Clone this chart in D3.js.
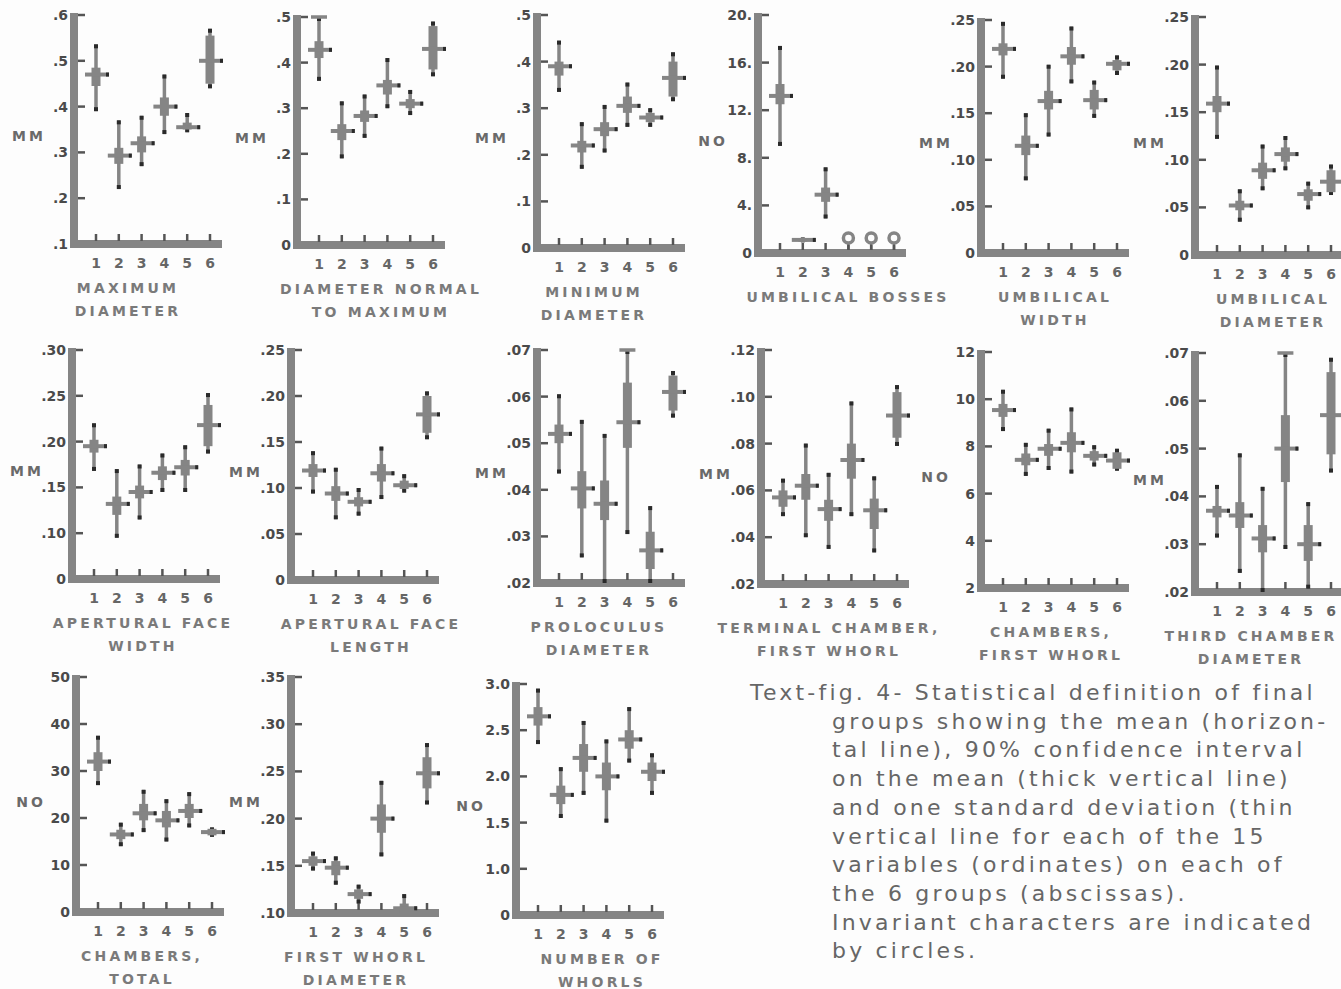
<!DOCTYPE html>
<html>
<head>
<meta charset="utf-8">
<script src="https://cdn.jsdelivr.net/npm/d3@7"></script>
<style>
  body { margin: 0; background: #fdfdfd; }
  svg { display: block; }
  .tick-lbl { font-family: "DejaVu Sans", sans-serif; font-weight: 700; font-size: 14px; fill: #4a4a4a; }
  .grp-lbl { font-family: "DejaVu Sans", sans-serif; font-weight: 700; font-size: 14px; fill: #666; letter-spacing: 1px; }
  .title { font-family: "DejaVu Sans", sans-serif; font-weight: 700; font-size: 14px; fill: #7a7a7a; letter-spacing: 3.2px; }
  .unit { font-family: "DejaVu Sans", sans-serif; font-weight: 700; font-size: 14px; fill: #6a6a6a; letter-spacing: 3px; }
  .caption { font-family: "DejaVu Sans", sans-serif; font-size: 22px; fill: #666; letter-spacing: 3.2px; }
</style>
</head>
<body>
<svg id="fig" width="1341" height="989"></svg>
<script>
const W = 1341, H = 989;
const groups = [1, 2, 3, 4, 5, 6];

// panel order: row 1 left->right, row 2, row 3
const titles1 = ["MAXIMUM", "DIAMETER NORMAL", "MINIMUM", "UMBILICAL BOSSES", "UMBILICAL", "UMBILICAL",
  "APERTURAL FACE", "APERTURAL FACE", "PROLOCULUS", "TERMINAL CHAMBER,", "CHAMBERS,", "THIRD CHAMBER",
  "CHAMBERS,", "FIRST WHORL", "NUMBER OF"];
const titles2 = ["DIAMETER", "TO MAXIMUM", "DIAMETER", "", "WIDTH", "DIAMETER",
  "WIDTH", "LENGTH", "DIAMETER", "FIRST WHORL", "FIRST WHORL", "DIAMETER",
  "TOTAL", "DIAMETER", "WHORLS"];
const units = ["MM", "MM", "MM", "NO", "MM", "MM", "MM", "MM", "MM", "MM", "NO", "MM", "NO", "MM", "NO"];

const yTicks = [
  [.1, .2, .3, .4, .5, .6], [0, .1, .2, .3, .4, .5], [0, .1, .2, .3, .4, .5],
  [0, 4, 8, 12, 16, 20], [0, .05, .10, .15, .20, .25], [0, .05, .10, .15, .20, .25],
  [.05, .10, .15, .20, .25, .30], [0, .05, .10, .15, .20, .25], [.02, .03, .04, .05, .06, .07],
  [.02, .04, .06, .08, .10, .12], [2, 4, 6, 8, 10, 12], [.02, .03, .04, .05, .06, .07],
  [0, 10, 20, 30, 40, 50], [.10, .15, .20, .25, .30, .35], [.5, 1, 1.5, 2, 2.5, 3]
];
const yTickLabels = [
  [".1", ".2", ".3", ".4", ".5", ".6"], ["0", ".1", ".2", ".3", ".4", ".5"], ["0", ".1", ".2", ".3", ".4", ".5"],
  ["0", "4.", "8.", "12.", "16.", "20."], ["0", ".05", ".10", ".15", ".20", ".25"], ["0", ".05", ".10", ".15", ".20", ".25"],
  ["0", ".10", ".15", ".20", ".25", ".30"], ["0", ".05", ".10", ".15", ".20", ".25"], [".02", ".03", ".04", ".05", ".06", ".07"],
  [".02", ".04", ".06", ".08", ".10", ".12"], ["2", "4", "6", "8", "10", "12"], [".02", ".03", ".04", ".05", ".06", ".07"],
  ["0", "10", "20", "30", "40", "50"], [".10", ".15", ".20", ".25", ".30", ".35"], ["0", "1.0", "1.5", "2.0", "2.5", "3.0"]
];

const means = [
  [.47, .293, .32, .40, .355, .50],
  [.428, .25, .283, .35, .31, .43],
  [.39, .22, .255, .305, .28, .365],
  [13.2, 1.1, 4.9, 1, 1, 1],
  [.219, .115, .163, .211, .164, .203],
  [.159, .052, .089, .106, .064, .077],
  [.195, .132, .145, .166, .172, .218],
  [.119, .094, .085, .116, .103, .18],
  [.052, .0403, .037, .0545, .027, .061],
  [.057, .062, .052, .073, .0515, .092],
  [9.54, 7.43, 7.9, 8.15, 7.6, 7.4],
  [.037, .036, .0312, .05, .030, .057],
  [32, 16.5, 21, 19.5, 21.5, 17],
  [.155, .148, .12, .20, .105, .248],
  [2.65, 1.8, 2.2, 2.0, 2.4, 2.05]
];
const ciLow = [
  [.445, .275, .30, .38, .35, .45],
  [.41, .23, .27, .33, .30, .385],
  [.37, .205, .24, .29, .27, .325],
  [12.5, 1.0, 4.3, 1, 1, 1],
  [.212, .105, .154, .202, .154, .196],
  [.15, .047, .08, .098, .057, .066],
  [.188, .12, .138, .158, .163, .195],
  [.112, .086, .08, .107, .099, .16],
  [.05, .036, .0335, .049, .023, .057],
  [.053, .056, .047, .065, .0435, .0825],
  [9.25, 7.2, 7.6, 7.75, 7.4, 7.05],
  [.0356, .0334, .0283, .043, .0265, .0488],
  [30, 15.5, 19.5, 18, 20, 16.3],
  [.15, .14, .115, .185, .10, .232],
  [2.55, 1.7, 2.05, 1.85, 2.3, 1.95]
];
const ciHigh = [
  [.485, .31, .335, .42, .365, .555],
  [.447, .265, .295, .362, .32, .48],
  [.40, .23, .27, .325, .29, .40],
  [14.2, 1.2, 5.5, 1, 1, 1],
  [.225, .126, .174, .221, .175, .207],
  [.167, .057, .097, .113, .069, .089],
  [.202, .14, .152, .173, .18, .24],
  [.126, .102, .09, .126, .108, .20],
  [.054, .044, .042, .063, .031, .0645],
  [.06, .067, .056, .08, .0565, .102],
  [9.8, 7.7, 8.1, 8.6, 7.8, 7.75],
  [.038, .0388, .034, .057, .034, .066],
  [34, 17.5, 23, 21.5, 23, 17.7],
  [.16, .155, .125, .215, .11, .265],
  [2.75, 1.9, 2.35, 2.15, 2.5, 2.15]
];
const sdLow = [
  [.39, .22, .27, .34, .344, .44],
  [.36, .19, .235, .30, .285, .37],
  [.335, .17, .205, .26, .26, .315],
  [9, 0.9, 2.9, 1, 1, 1],
  [.187, .078, .125, .182, .145, .191],
  [.122, .035, .068, .089, .048, .063],
  [.168, .095, .115, .145, .145, .187],
  [.094, .066, .07, .088, .095, .153],
  [.0435, .0255, .02, .0305, .02, .0555],
  [.049, .04, .035, .049, .0335, .079],
  [8.65, 6.75, 7.0, 6.85, 7.15, 6.97],
  [.0314, .024, .02, .029, .0207, .045],
  [27, 14, 17, 15, 18, 16],
  [.145, .13, .11, .16, .10, .215],
  [2.35, 1.55, 1.8, 1.5, 2.15, 1.8]
];
const sdHigh = [
  [.536, .37, .38, .47, .386, .57],
  [.50, .315, .33, .41, .34, .49],
  [.445, .27, .307, .355, .30, .42],
  [17.4, 1.3, 7.2, 1, 1, 1],
  [.248, .15, .202, .243, .185, .212],
  [.199, .069, .116, .125, .077, .095],
  [.22, .17, .175, .187, .196, .253],
  [.14, .122, .10, .145, .115, .205],
  [.0605, .055, .052, .07, .0365, .0655],
  [.065, .08, .0675, .098, .066, .105],
  [10.4, 8.15, 8.75, 9.65, 8.05, 7.9],
  [.0424, .049, .042, .07, .0388, .069],
  [37.5, 19, 26, 24, 25.5, 18],
  [.165, .16, .13, .24, .12, .28],
  [2.95, 2.1, 2.6, 2.4, 2.75, 2.25]
];
// groups whose character is invariant (drawn as circles)
const invariant = [4, 5, 6];
const invariantPanel = 3;

const captionLines = [
  "Text-fig. 4- Statistical definition of final",
  "groups showing the mean (horizon-",
  "tal line), 90% confidence interval",
  "on the mean (thick vertical line)",
  "and one standard deviation (thin",
  "vertical line for each of the 15",
  "variables (ordinates) on each of",
  "the 6 groups (abscissas).",
  "Invariant characters are indicated",
  "by circles."
];

// layout (pixels)
const axisX = [74, 297, 537, 758, 981, 1195, 72, 291, 537, 761, 981, 1195, 76, 291, 516];
const axisTop = [15, 17, 15, 15, 20, 17, 350, 350, 350, 350, 352, 353, 677, 677, 684];
const axisBottom = [244, 245, 248, 253, 253, 255, 579, 580, 583, 584, 588, 592, 912, 913, 915];
const titleDx = [54, 84, 57, 90, 74, 78, 71, 80, 62, 68, 70, 56, 66, 65, 86];

const grey = "#858585", dark = "#2a2a2a";
const svg = d3.select("#fig");
svg.append("rect").attr("width", W).attr("height", H).attr("fill", "#fdfdfd");

titles1.forEach((t, p) => {
  const x0 = axisX[p], top = axisTop[p], bot = axisBottom[p];
  const ticks = yTicks[p];
  const y = d3.scaleLinear().domain([ticks[0], ticks[ticks.length - 1]]).range([bot, top]);
  const x = d3.scalePoint().domain(groups).range([x0 + 22, x0 + 136]);
  const g = svg.append("g");

  // y tick labels
  const ya = g.append("g").attr("transform", `translate(${x0 - 4},0)`)
    .call(d3.axisLeft(y).tickValues(ticks).tickSize(0).tickPadding(2)
      .tickFormat((d, i) => yTickLabels[p][i]));
  ya.select(".domain").remove();
  ya.selectAll("text").attr("class", "tick-lbl");

  // y tick dashes
  g.selectAll(".ytk").data(ticks.slice(1)).enter().append("line")
    .attr("x1", x0 + 3).attr("x2", x0 + 11)
    .attr("y1", d => y(d)).attr("y2", d => y(d))
    .attr("stroke", "#555").attr("stroke-width", 2.5);

  // thick axes
  g.append("line").attr("x1", x0).attr("x2", x0).attr("y1", top - 2).attr("y2", bot + 4)
    .attr("stroke", grey).attr("stroke-width", 8);
  g.append("line").attr("x1", x0 - 4).attr("x2", x0 + 148).attr("y1", bot).attr("y2", bot)
    .attr("stroke", grey).attr("stroke-width", 8);

  // group numbers
  const xa = g.append("g").attr("transform", `translate(0,${bot + 4})`)
    .call(d3.axisBottom(x).tickSize(0).tickPadding(10));
  xa.select(".domain").remove();
  xa.selectAll("text").attr("class", "grp-lbl");

  // group ticks on the x axis
  g.selectAll(".xtk").data(groups).enter().append("line")
    .attr("x1", d => x(d)).attr("x2", d => x(d))
    .attr("y1", bot - 3).attr("y2", bot - 10)
    .attr("stroke", "#555").attr("stroke-width", 2.5);

  // unit label
  g.append("text").attr("class", "unit").attr("text-anchor", "middle")
    .attr("x", x0 - 45).attr("y", top + (bot - top) * 0.53 + 5).text(units[p]);

  // titles
  g.append("text").attr("class", "title").attr("text-anchor", "middle")
    .attr("x", x0 + titleDx[p]).attr("y", bot + 49).text(titles1[p]);
  g.append("text").attr("class", "title").attr("text-anchor", "middle")
    .attr("x", x0 + titleDx[p]).attr("y", bot + 72).text(titles2[p]);

  // marks
  groups.forEach((gr, i) => {
    const cx = x(gr);
    if (p === invariantPanel && invariant.includes(gr)) {
      g.append("line").attr("x1", cx).attr("x2", cx).attr("y1", y(means[p][i]) + 4).attr("y2", bot - 3)
        .attr("stroke", "#555").attr("stroke-width", 2.5);
      g.append("circle").attr("cx", cx).attr("cy", y(means[p][i]) - 3).attr("r", 5)
        .attr("fill", "#fdfdfd").attr("stroke", grey).attr("stroke-width", 3.5);
      return;
    }
    const sTop = y(sdHigh[p][i]), sBot = y(sdLow[p][i]);
    g.append("line").attr("x1", cx).attr("x2", cx).attr("y1", sTop).attr("y2", sBot)
      .attr("stroke", grey).attr("stroke-width", 3.5);
    // dark ends on the deviation line
    g.append("rect").attr("x", cx - 2).attr("y", sTop).attr("width", 4).attr("height", 4).attr("fill", dark);
    g.append("rect").attr("x", cx - 2).attr("y", sBot - 4).attr("width", 4).attr("height", 4).attr("fill", dark);
    if (sdHigh[p][i] >= ticks[ticks.length - 1]) {
      g.append("line").attr("x1", cx - 8).attr("x2", cx + 8).attr("y1", sTop).attr("y2", sTop)
        .attr("stroke", grey).attr("stroke-width", 3.5);
    }
    g.append("rect").attr("x", cx - 4.5).attr("y", y(ciHigh[p][i]))
      .attr("width", 9).attr("height", Math.max(3, y(ciLow[p][i]) - y(ciHigh[p][i])))
      .attr("fill", grey);
    const my = y(means[p][i]);
    g.append("line").attr("x1", cx - 11).attr("x2", cx + 13).attr("y1", my).attr("y2", my)
      .attr("stroke", grey).attr("stroke-width", 4);
    g.append("rect").attr("x", cx + 10).attr("y", my - 2).attr("width", 3).attr("height", 4).attr("fill", dark);
  });
});

// caption
const cap = svg.append("g");
cap.selectAll("text").data(captionLines).enter().append("text")
  .attr("class", "caption")
  .attr("x", (d, i) => i === 0 ? 750 : 832)
  .attr("y", (d, i) => 700 + i * 28.7)
  .text(d => d);
</script>
</body>
</html>
